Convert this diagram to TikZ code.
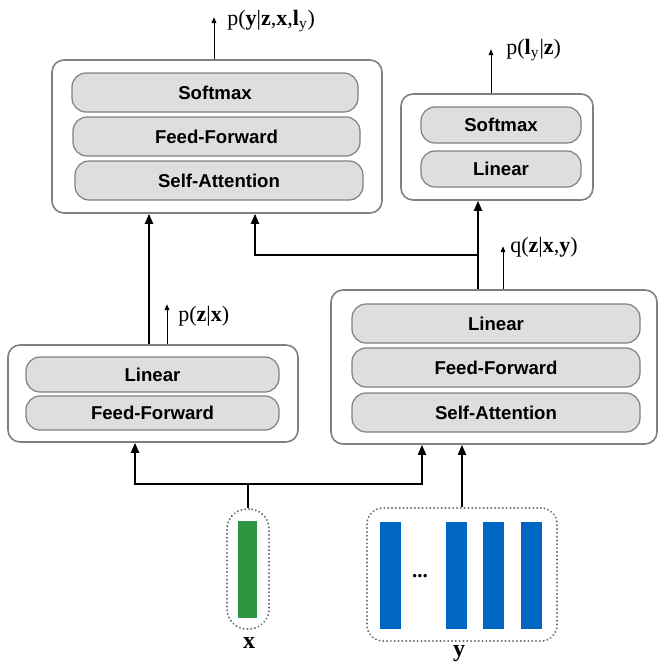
\documentclass[tikz,border=0pt]{standalone}
\usepackage{fontspec}
\setmainfont{Liberation Serif}
\setsansfont{Liberation Sans}
\usetikzlibrary{arrows.meta,calc,positioning}
\definecolor{boxgray}{RGB}{128,128,128}
\definecolor{dotgray}{RGB}{110,110,110}
\definecolor{layerfill}{RGB}{222,222,222}
\definecolor{barblue}{RGB}{0,102,196}
\definecolor{bargreen}{RGB}{46,150,64}

\begin{document}
\begin{tikzpicture}[x=0.5pt, y=-0.5pt,
  outerbox/.style={draw=boxgray, line width=0.8pt, rounded corners=6pt, fill=white, inner sep=0pt},
  layerbox/.style={draw=boxgray, line width=0.6pt, rounded corners=7pt, fill=layerfill, inner sep=0pt, font=\fontsize{9.3}{11}\sffamily\bfseries},
  groupbox/.style={draw=dotgray, line width=1.1pt, dash pattern=on 0.01pt off 1.9pt, line cap=round, inner sep=0pt},
  vecbar/.style={inner sep=0pt, minimum width=10.5pt, minimum height=53.5pt},
  lbl/.style={font=\fontsize{11}{13}\selectfont, inner sep=0pt, anchor=west},
  thk/.style={line width=1pt},
  thkarrow/.style={line width=1pt, -{Triangle[length=5pt,width=4pt]}},
  thnarrow/.style={line width=0.5pt, -{Triangle[length=3pt,width=2.4pt]}}]

\useasboundingbox (0,0) rectangle (658,665);

% decoder p(y|z,x,l_y)
\node[outerbox, minimum width=165pt, minimum height=76.5pt] (dec) at (217,136.5) {};
\node[layerbox, minimum width=143pt, minimum height=19.5pt] (decsm) at (215,92.5) {Softmax};
\node[layerbox, minimum width=143.5pt, minimum height=19.5pt] (decff) at (216.5,136.5) {Feed-Forward};
\node[layerbox, minimum width=144pt, minimum height=19.5pt] (decsa) at (219,180.5) {Self-Attention};

% length classifier p(l_y|z)
\node[outerbox, minimum width=96pt, minimum height=53pt] (cls) at (497,147) {};
\node[layerbox, minimum width=80pt, minimum height=18pt] (clssm) at (501,125) {Softmax};
\node[layerbox, minimum width=80pt, minimum height=18pt] (clslin) at (501,169) {Linear};

% posterior q(z|x,y)
\node[outerbox, minimum width=163pt, minimum height=77pt] (enc) at (494,367) {};
\node[layerbox, minimum width=144pt, minimum height=19.5pt] (enclin) at (496,323.5) {Linear};
\node[layerbox, minimum width=144pt, minimum height=19.5pt] (encff) at (496,367.5) {Feed-Forward};
\node[layerbox, minimum width=144pt, minimum height=19.5pt] (encsa) at (496,412.5) {Self-Attention};

% prior p(z|x)
\node[outerbox, minimum width=145pt, minimum height=48.5pt] (prior) at (153,393.5) {};
\node[layerbox, minimum width=126.5pt, minimum height=17.5pt] (priorlin) at (152.5,374.5) {Linear};
\node[layerbox, minimum width=126.5pt, minimum height=17pt] (priorff) at (152.5,413) {Feed-Forward};

% inputs
\node[groupbox, rounded corners=10pt, minimum width=21pt, minimum height=60pt] (xbox) at (248,569) {};
\node[vecbar, fill=bargreen, minimum height=48.5pt, minimum width=9.5pt] (xbar) at (247.5,569.5) {};
\node[font=\fontsize{12}{14}\bfseries] (xlab) at (249,643) {x};

\node[groupbox, rounded corners=8pt, minimum width=95pt, minimum height=66.5pt] (ybox) at (462,574.5) {};
\foreach \i/\cx in {1/390.5, 2/456, 3/493.5, 4/531}
  \node[vecbar, fill=barblue] (ybar\i) at (\cx,575) {};
\node[font=\fontsize{10.5}{12}\bfseries] (ydots) at (420,576) {...};
\node[font=\fontsize{12}{14}\bfseries] (ylab) at (459,654) {y};

% labels
\node[lbl] (pyzx) at (227,21) {p(\textbf{y}|\textbf{z},\textbf{x},\textbf{l}\textsubscript{y})};
\node[lbl] (plz) at (506,50) {p(\textbf{l}\textsubscript{y}|\textbf{z})};
\node[lbl] (qzxy) at (510,247) {q(\textbf{z}|\textbf{x},\textbf{y})};
\node[lbl] (pzx) at (178,316) {p(\textbf{z}|\textbf{x})};

% connectors
\coordinate (fork) at (248,484);
\coordinate (split) at (478,255);
\draw[thk] (xbox.north) -- (fork);
\draw[thkarrow] (fork) -| ([xshift=-9pt]prior.south);
\draw[thkarrow] (fork) -| ([xshift=-36pt]enc.south);
\draw[thkarrow] (ybox.north) -- (ybox.north |- enc.south);
\draw[thkarrow] ([xshift=-2pt]prior.north) -- ([xshift=-2pt]prior.north |- dec.south);
\draw[thkarrow] ([xshift=-8pt]enc.north) -- ([xshift=-8pt]enc.north |- cls.south);
\draw[thkarrow] (split) -| ([xshift=19pt]dec.south);
\draw[thnarrow] ([xshift=7pt]prior.north) -- ++(0,-40);
\draw[thnarrow] ([xshift=4.5pt]enc.north) -- ++(0,-43);
\draw[thnarrow] ([xshift=-1.5pt]dec.north) -- ++(0,-42);
\draw[thnarrow] ([xshift=-3pt]cls.north) -- ++(0,-44);
\end{tikzpicture}
\end{document}
